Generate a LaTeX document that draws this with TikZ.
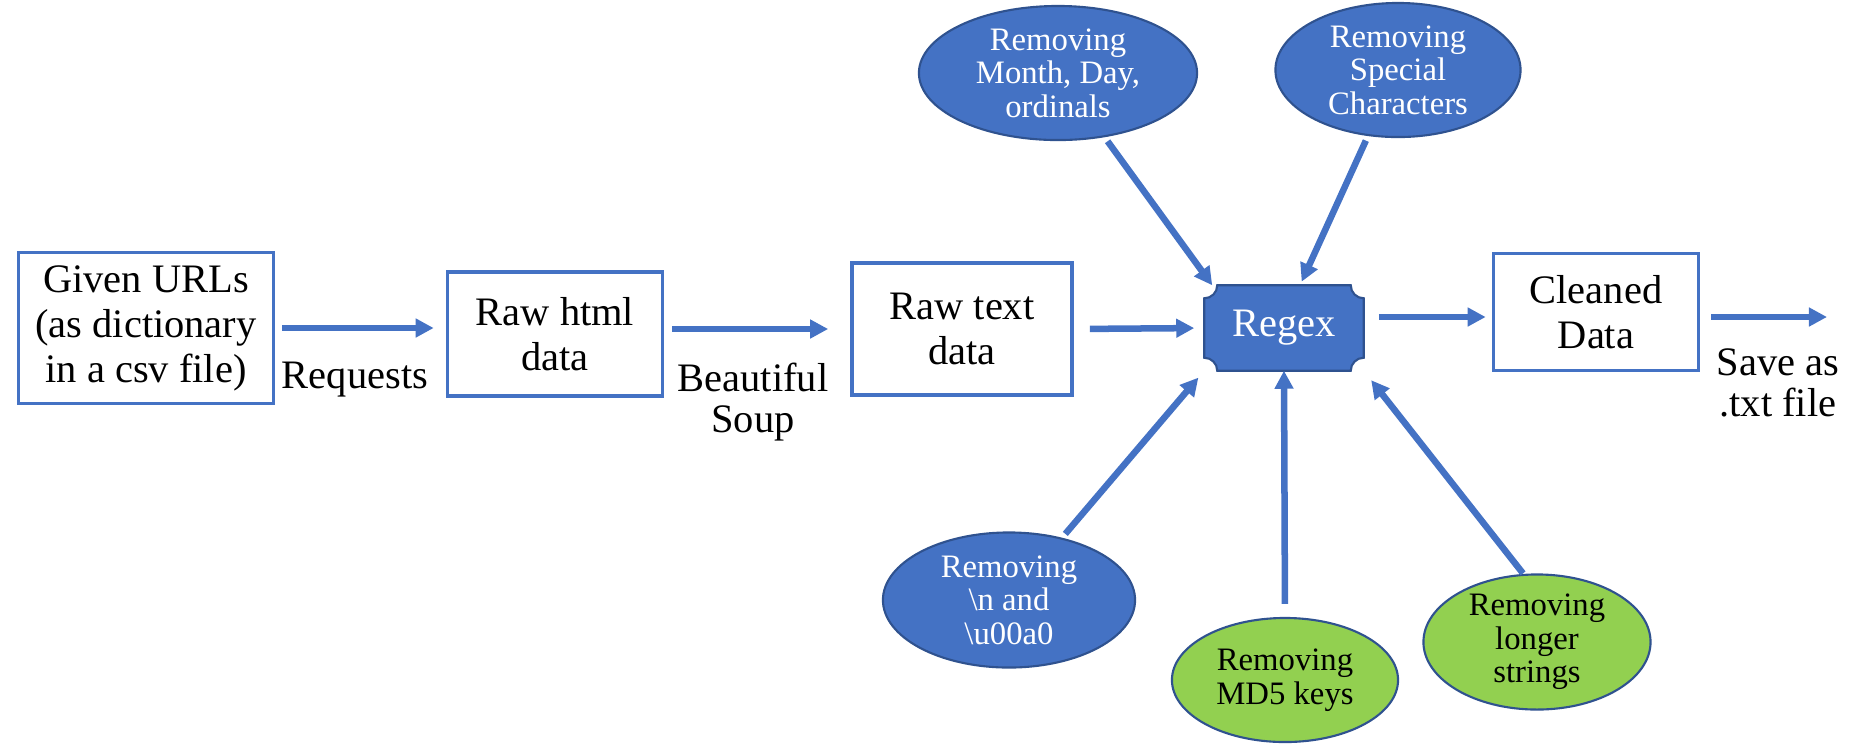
\documentclass[tikz,border=0pt]{standalone}
\usepackage{fontspec}
\setmainfont{Liberation Serif}
\usepackage{xcolor}
\usepackage{tikz}
\usetikzlibrary{shapes.geometric,arrows.meta,backgrounds}
\definecolor{officeblue}{RGB}{68,114,196}
\definecolor{darkblue}{RGB}{47,82,143}
\definecolor{limegreen}{RGB}{146,208,80}

\begin{document}
\begin{tikzpicture}[x=0.01cm, y=-0.01cm,
    stage/.style={rectangle, draw=officeblue, line width=1pt, fill=white, align=center, inner sep=2pt, font=\fontsize{11.5}{12.8}\selectfont},
    tag/.style={align=center, font=\fontsize{11.5}{11.6}\selectfont},
    rule/.style={ellipse, draw=darkblue, line width=0.6pt, fill=officeblue, text=white, align=center, inner sep=0pt, font=\fontsize{9.3}{9.5}\selectfont},
    extra/.style={rule, fill=limegreen, text=black},
    flow/.style={draw=officeblue, line width=1.85pt, -{Triangle[length=0.18cm,width=0.18cm]}}
]
\useasboundingbox (0,0) rectangle (1868,744);

% Pipeline boxes
\node[stage, minimum width=2.55cm, minimum height=1.51cm] (urls) at (146,328) {Given URLs\\(as dictionary\\in a csv file)};
\node[stage, minimum width=2.15cm, minimum height=1.24cm] (rawhtml) at (555,334) {Raw html\\data};
\node[stage, minimum width=2.20cm, minimum height=1.32cm] (rawtext) at (962,329) {Raw text\\data};
\node[rectangle, minimum width=1.58cm, minimum height=0.84cm, text=white, font=\fontsize{11.5}{12.8}\selectfont] (regex) at (1284,328) {Regex};
\node[stage, minimum width=2.05cm, minimum height=1.17cm] (cleaned) at (1596,312) {Cleaned\\Data};
\coordinate (saveend) at (1827,317);

% Regex plaque
\begin{scope}[on background layer, x=1cm, y=1cm]
\filldraw[fill=officeblue, draw=darkblue, line width=0.6pt]
    ([xshift=-1.3mm]regex.north east) arc[start angle=180, end angle=270, radius=1.3mm]
 -- ([yshift=1.3mm]regex.south east) arc[start angle=90, end angle=180, radius=1.3mm]
 -- ([xshift=1.3mm]regex.south west) arc[start angle=0, end angle=90, radius=1.3mm]
 -- ([yshift=-1.3mm]regex.north west) arc[start angle=270, end angle=360, radius=1.3mm]
 -- cycle;
\end{scope}

% Edge labels
\node[tag] (requests) at (355,380) {Requests};
\node[tag] (soup) at (753,402) {Beautiful\\Soup};
\node[tag] (savetxt) at (1778,383) {Save as\\.txt file};

% Cleaning steps
\node[rule, minimum width=2.78cm, minimum height=1.34cm] (months) at (1058,73) {Removing\\Month, Day,\\ordinals};
\node[rule, minimum width=2.45cm, minimum height=1.34cm] (special) at (1398,70) {Removing\\Special\\Characters};
\node[rule, minimum width=2.52cm, minimum height=1.35cm] (newline) at (1009,600) {Removing\\\textbackslash n and\\\textbackslash u00a0};
\node[extra, minimum width=2.26cm, minimum height=1.24cm] (md5) at (1285,680) {Removing\\MD5 keys};
\node[extra, minimum width=2.27cm, minimum height=1.33cm] (longer) at (1537,642) {Removing\\longer\\strings};

% Arrows
\draw[flow, shorten <=0.07cm, shorten >=0.12cm] (urls.east) -- (urls.east -| rawhtml.west);
\draw[flow, shorten <=0.08cm, shorten >=0.22cm] (rawtext.west -| rawhtml.east) -- (rawtext.west);
\draw[flow, shorten <=0.16cm, shorten >=0.10cm] (rawtext.east) -- (regex.west);
\draw[flow, shorten <=0.15cm, shorten >=0.06cm] (regex.east |- saveend) -- (cleaned.west |- saveend);
\draw[flow, shorten <=0.11cm] (cleaned.east |- saveend) -- (saveend);

\draw[flow, shorten <=0.05cm] (months) -- ([xshift=0.08cm]regex.north west);
\draw[flow, shorten <=0.05cm, shorten >=0.04cm] (special) -- ([xshift=0.16cm]regex.north);
\draw[flow, shorten <=0.05cm, shorten >=0.09cm] (newline) -- (regex.south west);
\draw[flow, shorten <=0.13cm] (md5.north) -- (regex.south);
\draw[flow, shorten >=0.12cm] ([xshift=-0.14cm]longer.north) -- (regex.south east);

\end{tikzpicture}
\end{document}
